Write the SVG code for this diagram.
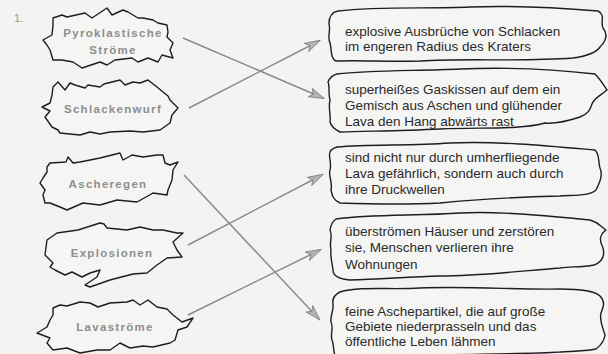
<svg xmlns="http://www.w3.org/2000/svg" width="608" height="354" viewBox="0 0 608 354">
<defs>
<style>
.bg{fill:#f3f3f1}
.shape{fill:#f5f5f3;stroke:#1e1e1e;stroke-width:1.4;stroke-linejoin:round}
.lbl{font-family:"Liberation Sans",Arial,sans-serif;font-size:11.5px;font-weight:bold;fill:#8e8e8e;letter-spacing:1.3px;text-anchor:middle}
.txt{font-family:"Liberation Sans",Arial,sans-serif;font-size:13.5px;fill:#2a2a2a}
.arr{stroke:#8a8a8a;stroke-width:1.5;fill:none;marker-end:url(#ah)}
</style>
<marker id="ah" viewBox="0 0 20 14" refX="18" refY="7" markerWidth="16" markerHeight="11" markerUnits="userSpaceOnUse" orient="auto">
<path d="M0,1 L20,7 L0,13 L5,7 Z" fill="#b4b4b4" stroke="#7e7e7e" stroke-width="1"/>
</marker>
</defs>
<rect class="bg" x="0" y="0" width="608" height="354"/>
<text x="14" y="22" font-family="Liberation Sans, Arial, sans-serif" font-size="11" fill="#9a9a9a">1.</text>

<g id="n-pyro">
<path class="shape" d="M53,18 L62,15 L67,17 L85,13 L92,18 L107,8 L112,15 L123,10 L128,12 L138,18 L143,18 L153,20 L158,23 L167,25 L168,32 L167,37 L173,43 L170,50 L173,58 L162,55 L158,62 L148,58 L138,62 L132,58 L115,60 L107,65 L100,62 L82,68 L73,62 L62,60 L53,60 L50,50 L47,45 L43,40 L52,35 L53,25 Z"/>
<text class="lbl" x="113" y="37">Pyroklastische</text>
<text class="lbl" x="113" y="54">Ströme</text>
</g>
<g id="n-schlacken">
<path class="shape" d="M53,87 L58,82 L65,90 L70,83 L75,85 L85,88 L88,85 L100,87 L104,84 L120,80 L125,85 L133,82 L140,83 L148,80 L157,87 L163,92 L168,96 L170,100 L178,108 L172,115 L170,123 L160,130 L143,132 L130,131 L110,132 L100,134 L90,132 L80,135 L60,133 L58,130 L52,127 L45,117 L50,111 L42,107 L50,103 L52,95 Z"/>
<text class="lbl" x="113" y="113">Schlackenwurf</text>
</g>
<g id="n-asche">
<path class="shape" d="M47,167 L50,163 L66,162 L68,157 L73,163 L80,162 L100,158 L120,153 L123,160 L132,155 L143,157 L157,155 L163,155 L165,163 L170,165 L178,162 L173,170 L172,180 L168,190 L167,195 L153,193 L146,197 L137,202 L117,200 L100,205 L83,203 L67,210 L60,207 L50,203 L45,203 L43,195 L45,190 L40,183 L43,178 L47,172 Z"/>
<text class="lbl" x="108" y="188">Ascheregen</text>
</g>
<g id="n-explo">
<path class="shape" d="M47,240 L57,233 L78,230 L100,223 L104,224 L107,228 L127,230 L140,227 L153,230 L163,230 L177,233 L183,233 L173,242 L177,250 L182,257 L167,258 L157,265 L147,273 L133,274 L110,280 L90,287 L85,285 L97,277 L100,270 L90,273 L82,277 L72,272 L65,275 L55,270 L50,267 L53,263 L45,255 Z"/>
<text class="lbl" x="112" y="257">Explosionen</text>
</g>
<g id="n-lava">
<path class="shape" d="M53,308 L60,305 L67,306 L80,302 L90,303 L98,307 L110,303 L127,302 L133,300 L140,305 L148,300 L157,307 L167,309 L173,315 L182,322 L193,318 L187,327 L178,330 L175,340 L170,343 L153,347 L143,346 L130,348 L120,343 L110,350 L97,350 L80,353 L67,348 L53,350 L47,343 L50,338 L37,333 L47,327 L50,320 L53,315 Z"/>
<text class="lbl" x="115" y="331">Lavaströme</text>
</g>

<g id="n-r1">
<path class="shape" d="M338,11 C380,6 430,9 470,7 C520,5 562,8 598,11 C606,15 600,22 603,28 C608,34 606,41 600,47 C596,53 588,56 573,58 C520,62 470,58 420,61 C390,62 360,60 336,61 C330,58 332,50 330,43 C327,37 331,30 329,24 C329,16 332,12 338,11 Z"/>
<text class="txt" x="345" y="36">explosive Ausbrüche von Schlacken</text>
<text class="txt" x="345" y="51">im engeren Radius des Kraters</text>
</g>
<g id="n-r2">
<path class="shape" d="M337,74 C370,70 420,71 460,69 C510,67 560,70 595,74 C600,79 603,84 607,90 C600,96 594,98 592,104 C590,110 588,114 580,117 C565,122 555,124 545,123 C520,130 480,127 440,129 C400,131 370,131 340,132 C334,129 331,126 330,122 C331,115 328,108 330,100 C328,93 330,86 328,82 C330,77 333,75 337,74 Z"/>
<text class="txt" x="345" y="94">superheißes Gaskissen auf dem ein</text>
<text class="txt" x="345" y="110">Gemisch aus Aschen und glühender</text>
<text class="txt" x="345" y="126">Lava den Hang abwärts rast</text>
</g>
<g id="n-r3">
<path class="shape" d="M337,147 C370,144 410,146 450,143 C500,141 550,146 595,150 C600,155 598,162 600,168 C603,175 600,182 596,190 C590,196 575,195 560,196 C520,197 480,199 440,203 C400,205 370,204 340,203 C333,200 332,195 331,190 C333,182 328,176 330,170 C332,162 328,156 330,152 C331,149 334,148 337,147 Z"/>
<text class="txt" x="345" y="162">sind nicht nur durch umherfliegende</text>
<text class="txt" x="345" y="178">Lava gefährlich, sondern auch durch</text>
<text class="txt" x="345" y="194">ihre Druckwellen</text>
</g>
<g id="n-r4">
<path class="shape" d="M336,219 C370,214 420,216 460,213 C500,211 550,216 590,220 C598,222 600,226 606,230 C598,236 600,242 603,248 C605,256 602,262 594,265 C580,268 570,266 560,268 C520,271 480,276 440,276 C410,277 380,279 350,280 C338,279 333,276 333,270 C332,262 330,256 331,250 C329,242 333,236 330,230 C331,224 333,221 336,219 Z"/>
<text class="txt" x="345" y="236">überströmen Häuser und zerstören</text>
<text class="txt" x="345" y="252">sie, Menschen verlieren ihre</text>
<text class="txt" x="345" y="269">Wohnungen</text>
</g>
<g id="n-r5">
<path class="shape" d="M340,292 C360,286 390,290 420,288 C470,286 520,290 560,289 C580,289 595,291 600,296 C606,302 603,308 601,313 C599,320 603,328 605,335 C604,342 600,346 596,349 C580,352 570,351 560,352 C530,354 480,354 440,355 L335,356 C333,350 334,344 332,340 C330,334 334,328 331,322 C330,316 334,310 333,304 C332,298 336,294 340,292 Z"/>
<text class="txt" x="345" y="316">feine Aschepartikel, die auf große</text>
<text class="txt" x="345" y="331">Gebiete niederprasseln und das</text>
<text class="txt" x="345" y="346">öffentliche Leben lähmen</text>
</g>

<g id="connectors">
<line class="arr" x1="183" y1="38" x2="323" y2="98"/>
<line class="arr" x1="189" y1="108" x2="319" y2="41"/>
<line class="arr" x1="184" y1="175" x2="319" y2="319"/>
<line class="arr" x1="188" y1="245" x2="322" y2="175"/>
<line class="arr" x1="188" y1="315" x2="320" y2="250"/>
</g>
</svg>
